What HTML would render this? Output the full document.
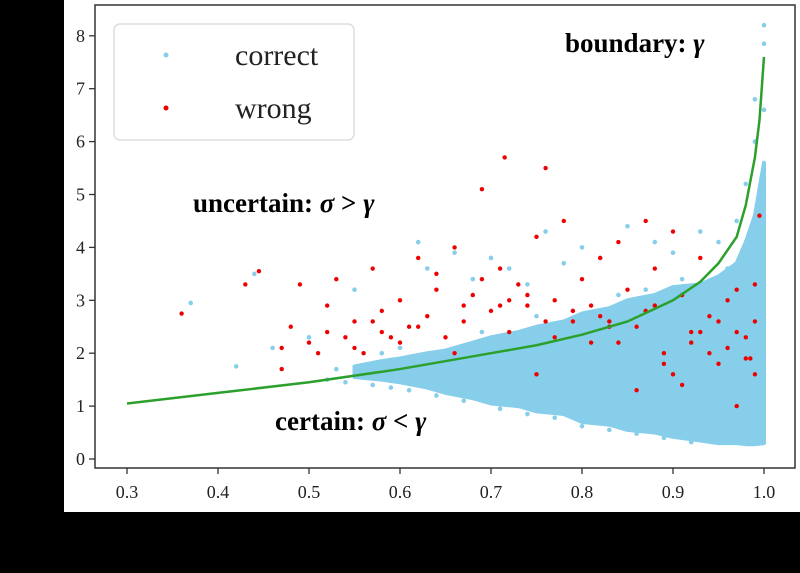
<!DOCTYPE html>
<html><head><meta charset="utf-8"><style>
html,body{margin:0;padding:0;background:#000;}
body{position:relative;width:800px;height:573px;}
svg{display:block;}
text{font-family:"Liberation Serif",serif;}
</style></head><body>
<svg id="chart" width="800" height="573">
<rect x="64" y="0" width="736" height="512" fill="#fff"/>
<g id="plot"></g>
</svg>
<script>
const xTicks=[0.3,0.4,0.5,0.6,0.7,0.8,0.9,1.0];
const xTickLabels=["0.3","0.4","0.5","0.6","0.7","0.8","0.9","1.0"];
const yTicks=[0,1,2,3,4,5,6,7,8];
const yTickLabels=["0","1","2","3","4","5","6","7","8"];
const boundaryX=[0.3,0.4,0.5,0.6,0.7,0.75,0.8,0.85,0.9,0.93,0.95,0.97,0.98,0.99,0.995,1.0];
const boundaryY=[1.05,1.25,1.45,1.7,2.0,2.15,2.35,2.6,3.0,3.35,3.7,4.2,4.8,5.7,6.4,7.6];
const blobX=[0.55,0.58,0.6,0.63,0.65,0.68,0.7,0.73,0.75,0.78,0.8,0.83,0.85,0.88,0.9,0.93,0.95,0.97,0.98,0.99,1.0];
const blobUpper=[1.75,1.85,1.9,2.0,2.05,2.2,2.3,2.4,2.5,2.6,2.75,2.85,3.0,3.1,3.25,3.3,3.45,3.7,4.1,4.6,5.6];
const blobLower=[1.55,1.5,1.45,1.35,1.25,1.15,1.05,1.0,0.9,0.85,0.7,0.65,0.55,0.5,0.42,0.35,0.3,0.3,0.28,0.28,0.3];
const correctX=[0.37,0.42,0.44,0.46,0.5,0.53,0.55,0.62,0.63,0.66,0.7,0.74,0.76,0.8,0.82,0.85,0.88,0.9,0.93,0.95,0.97,0.98,0.99,1.0,1.0,1.0,1.0,0.99,0.72,0.78,0.68,0.52,0.54,0.57,0.59,0.61,0.64,0.67,0.71,0.74,0.77,0.8,0.83,0.86,0.89,0.92,0.75,0.79,0.84,0.87,0.91,0.96,0.58,0.6,0.69];
const correctY=[2.95,1.75,3.5,2.1,2.3,1.7,3.2,4.1,3.6,3.9,3.8,3.3,4.3,4.0,3.8,4.4,4.1,3.9,4.3,4.1,4.5,5.2,6.0,7.85,8.2,6.6,5.0,6.8,3.6,3.7,3.4,1.5,1.45,1.4,1.35,1.3,1.2,1.1,0.95,0.85,0.78,0.62,0.55,0.48,0.4,0.32,2.7,2.8,3.1,3.2,3.4,3.6,2.0,2.1,2.4];
const wrongX=[0.36,0.43,0.445,0.47,0.48,0.49,0.5,0.51,0.52,0.53,0.54,0.55,0.56,0.57,0.58,0.59,0.6,0.61,0.62,0.63,0.64,0.65,0.66,0.67,0.68,0.69,0.7,0.71,0.715,0.72,0.73,0.74,0.75,0.76,0.77,0.78,0.79,0.8,0.81,0.82,0.83,0.84,0.85,0.86,0.87,0.88,0.89,0.9,0.91,0.92,0.93,0.94,0.95,0.96,0.97,0.98,0.99,0.995,0.47,0.52,0.57,0.62,0.67,0.72,0.77,0.82,0.87,0.92,0.97,0.64,0.69,0.74,0.79,0.84,0.89,0.94,0.99,0.6,0.66,0.75,0.86,0.91,0.96,0.81,0.83,0.88,0.93,0.95,0.98,0.99,0.76,0.71,0.55,0.58,0.9,0.97,0.985];
const wrongY=[2.75,3.3,3.55,1.7,2.5,3.3,2.2,2.0,2.9,3.4,2.3,2.6,2.0,3.6,2.8,2.3,3.0,2.5,3.8,2.7,3.2,2.3,4.0,2.6,3.1,5.1,2.8,3.6,5.7,2.4,3.3,2.9,4.2,5.5,3.0,4.5,2.6,3.4,2.9,3.8,2.6,4.1,3.2,2.5,4.5,3.6,2.0,4.3,3.1,2.2,3.8,2.7,1.8,3.0,2.4,1.9,2.6,4.6,2.1,2.4,2.6,2.5,2.9,3.0,2.3,2.7,2.8,2.4,3.2,3.5,3.4,3.1,2.8,2.2,1.8,2.0,1.6,2.2,2.0,1.6,1.3,1.4,2.1,2.2,2.5,2.9,2.4,2.6,2.3,3.3,2.6,2.9,2.1,2.4,1.6,1.0,1.9];
const svgNS="http://www.w3.org/2000/svg";
const g=document.getElementById('plot');
const L=95,R=795,T=5,B=468;
function sx(v){return 127+(v-0.3)*910;}
function sy(v){return 459-v*52.9;}
function mk(tag,attrs,parent){const e=document.createElementNS(svgNS,tag);for(const k in attrs)e.setAttribute(k,attrs[k]);(parent||g).appendChild(e);return e;}
let pts=blobX.map((x,i)=>sx(x)+','+sy(blobUpper[i]));
for(let i=blobX.length-1;i>=0;i--)pts.push(sx(blobX[i])+','+sy(blobLower[i]));
const blob=mk('polygon',{points:pts.join(' '),fill:'#87ceeb',stroke:'#87ceeb','stroke-width':4,'stroke-linejoin':'round'});


correctX.forEach((x,i)=>{const c=mk('circle',{cx:sx(x),cy:sy(correctY[i]),r:2.3,fill:'#87ceeb'});

});
wrongX.forEach((x,i)=>{const c=mk('circle',{cx:sx(x),cy:sy(wrongY[i]),r:2.2,fill:'#ee0000'});

});
const line=mk('polyline',{points:boundaryX.map((x,i)=>sx(x)+','+sy(boundaryY[i])).join(' '),fill:'none',stroke:'#2ca02c','stroke-width':2.5});


const frame=mk('rect',{x:L,y:T,width:R-L,height:B-T,fill:'none',stroke:'#333','stroke-width':1.5});


xTicks.forEach((v,i)=>{mk('line',{x1:sx(v),x2:sx(v),y1:B,y2:B+6,stroke:'#333','stroke-width':1.3});
const t=mk('text',{x:sx(v),y:B+30,'text-anchor':'middle','font-size':18,fill:'#222'});t.textContent=xTickLabels[i];

});
yTicks.forEach((v,i)=>{mk('line',{x1:L-6,x2:L,y1:sy(v),y2:sy(v),stroke:'#333','stroke-width':1.3});
const t=mk('text',{x:L-10,y:sy(v)+6,'text-anchor':'end','font-size':18,fill:'#222'});t.textContent=yTickLabels[i];

});
</script>
<svg style="position:absolute;left:0;top:0" width="800" height="573">
<g>
<rect x="114" y="24" width="240" height="116" rx="6" fill="#fff" fill-opacity="0.85" stroke="#ddd" stroke-width="1.5"/>
<circle cx="166" cy="55" r="2.5" fill="#87ceeb"/>
<text x="235" y="65" font-size="30" fill="#222">correct</text>
<circle cx="166" cy="108" r="2.5" fill="#ee0000"/>
<text x="235" y="118" font-size="30" fill="#222">wrong</text>
</g>
<text x="565" y="52" font-size="27" font-weight="bold" fill="#000">boundary: <tspan font-style="italic">γ</tspan></text>
<text x="193" y="212" font-size="27" font-weight="bold" fill="#000">uncertain:  <tspan font-style="italic">σ</tspan> &gt; <tspan font-style="italic">γ</tspan></text>
<text x="275" y="430" font-size="27" font-weight="bold" fill="#000">certain:  <tspan font-style="italic">σ</tspan> &lt; <tspan font-style="italic">γ</tspan></text>
</svg>
</body></html>
